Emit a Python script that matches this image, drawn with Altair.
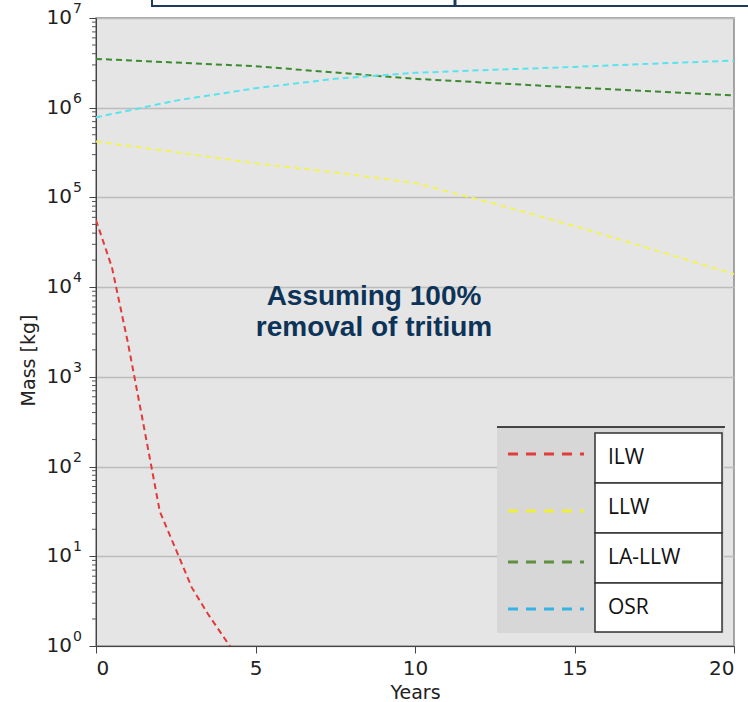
import altair as alt
import pandas as pd

# ---- series values (mass in kg) ----
ilw_years = [0, 0.5, 1, 1.5, 2, 2.5, 3, 3.5, 4, 4.5]
ilw_mass = [5.6e4, 1.66e4, 2.4e3, 2.8e2, 31.6, 12.0, 4.5, 2.3, 1.26, 0.7]

llw_years = [0, 2.5, 5, 7.5, 10, 12.5, 15, 17.5, 20]
llw_mass = [4.2e5, 3.2e5, 2.4e5, 1.9e5, 1.45e5, 8.5e4, 4.8e4, 2.6e4, 1.4e4]

lallw_years = [0, 5, 10, 15, 20]
lallw_mass = [3.5e6, 2.9e6, 2.1e6, 1.68e6, 1.37e6]

osr_years = [0, 2.5, 5, 7.5, 10, 12.5, 15, 17.5, 20]
osr_mass = [7.8e5, 1.2e6, 1.65e6, 2.1e6, 2.45e6, 2.65e6, 2.85e6, 3.1e6, 3.35e6]

series_names = ["ILW", "LLW", "LA-LLW", "OSR"]
line_colors = ["#e23a3a", "#f2f25c", "#3b8a2e", "#58e4ee"]
legend_colors = ["#e03c3c", "#eeee3e", "#5f8f3f", "#36b4e4"]

x_ticks = [0, 5, 10, 15, 20]
y_decades = [0, 1, 2, 3, 4, 5, 6, 7]

W, H = 638, 628
FONT = "DejaVu Sans"

rows = []
for name, xs, ys in [("ILW", ilw_years, ilw_mass), ("LLW", llw_years, llw_mass),
                     ("LA-LLW", lallw_years, lallw_mass), ("OSR", osr_years, osr_mass)]:
    for x, y in zip(xs, ys):
        rows.append({"series": name, "year": x, "mass": y})
df = pd.DataFrame(rows)

xscale = alt.Scale(domain=[0, 20], nice=False, zero=False)
yscale = alt.Scale(type="log", domain=[1, 1e7], nice=False)

lines = alt.Chart(df).mark_line(strokeDash=[6, 4], strokeWidth=2, clip=True).encode(
    x=alt.X("year:Q", scale=xscale,
            axis=alt.Axis(values=x_ticks, title="Years", grid=False, labelFont=FONT,
                          labelFontSize=20, labelColor="#222", titleFont=FONT,
                          titleFontSize=19, titleFontWeight="normal", titleColor="#222",
                          tickSize=7, tickColor="#444", domainColor="#444",
                          labelPadding=5, titlePadding=5)),
    y=alt.Y("mass:Q", scale=yscale,
            axis=alt.Axis(values=[10 ** k for k in y_decades], labels=False, grid=True,
                          gridColor="#bcbcbc", gridWidth=1.5, tickSize=7, tickColor="#444",
                          domainColor="#444", title="Mass [kg]", titleFont=FONT,
                          titleFontSize=19, titleFontWeight="normal", titleColor="#222",
                          titlePadding=50, titleY=342)),
    color=alt.Color("series:N", scale=alt.Scale(domain=series_names, range=line_colors),
                    legend=None),
    detail="series:N",
)

# y tick labels written as 10 with a raised exponent
ylab = pd.DataFrame({"v": [10 ** k for k in y_decades],
                     "e": [str(k) for k in y_decades]})
base_lbl = alt.Chart(ylab).mark_text(align="right", baseline="middle", font=FONT,
                                     fontSize=20, color="#222").encode(
    x=alt.value(-24), y=alt.Y("v:Q", scale=yscale, axis=None), text=alt.value("10"))
exp_lbl = alt.Chart(ylab).mark_text(align="left", baseline="middle", font=FONT,
                                    fontSize=14, color="#222", dy=-9).encode(
    x=alt.value(-23), y=alt.Y("v:Q", scale=yscale, axis=None), text="e:N")

# log minor ticks
minor = pd.DataFrame({"v": [m * 10 ** k for k in range(0, 7) for m in range(2, 10)]})
minor_ticks = alt.Chart(minor).mark_rule(color="#555", strokeWidth=1).encode(
    y=alt.Y("v:Q", scale=yscale, axis=None), x=alt.value(-4), x2=alt.value(0))

# annotation
note = alt.Chart(pd.DataFrame({"t": [["Assuming 100%", "removal of tritium"]]})).mark_text(
    font="Liberation Sans", fontWeight="bold", fontSize=28, color="#0d3458",
    align="center", baseline="middle", lineHeight=31).encode(
    x=alt.value(278), y=alt.value(279), text="t")

# legend box
leg_panel = alt.Chart(pd.DataFrame({"a": [0]})).mark_rect(color="#d7d7d7").encode(
    x=alt.value(401), x2=alt.value(628), y=alt.value(409), y2=alt.value(615))
leg_top = alt.Chart(pd.DataFrame({"a": [0]})).mark_rule(color="#111", strokeWidth=1.5).encode(
    x=alt.value(401), x2=alt.value(629), y=alt.value(409))

row_top = [415, 465, 515, 565]
row_bot = [465, 515, 565, 614]
leg = pd.DataFrame({"series": series_names, "top": row_top, "bot": row_bot,
                    "mid": [(a + b) / 2 for a, b in zip(row_top, row_bot)],
                    "sample_y": [436, 493, 544, 591]})
px = alt.Scale(domain=[0, H], range=[0, H])
cells = alt.Chart(leg).mark_rect(fill="white", stroke="#333", strokeWidth=1.5).encode(
    x=alt.value(499), x2=alt.value(626),
    y=alt.Y("top:Q", scale=px, axis=None), y2="bot:Q")
samples = alt.Chart(leg).mark_rule(strokeWidth=3, strokeDash=[10, 8]).encode(
    x=alt.value(412), x2=alt.value(488),
    y=alt.Y("sample_y:Q", scale=px, axis=None),
    color=alt.Color("series:N", scale=alt.Scale(domain=series_names, range=legend_colors),
                    legend=None))
labels = alt.Chart(leg).mark_text(align="left", baseline="middle", font="Open Sans",
                                  fontSize=21, color="#111").encode(
    x=alt.value(512), y=alt.Y("mid:Q", scale=px, axis=None), text="series:N")

# heading box running off the top of the page
head = alt.Chart(pd.DataFrame({"a": [0]})).mark_rect(
    fill="white", stroke="#1f3a5a", strokeWidth=2).encode(
    x=alt.value(56), x2=alt.value(700), y=alt.value(-45), y2=alt.value(-12))
head_mark = alt.Chart(pd.DataFrame({"a": [0]})).mark_rule(
    color="#1f3a5a", strokeWidth=3).encode(
    x=alt.value(359), y=alt.value(-20), y2=alt.value(-11))

chart = alt.layer(
    lines, minor_ticks, base_lbl, exp_lbl, note,
    leg_panel, leg_top, cells, samples, labels, head, head_mark,
).resolve_scale(y="independent", color="independent").properties(
    width=W, height=H,
    autosize=alt.AutoSizeParams(type="none"),
    padding={"left": 96, "top": 18, "right": 14, "bottom": 56},
    background="white",
).configure_view(fill="#e5e5e5", stroke="#8a8a8a", strokeWidth=1.5)

chart.save("out.html", embed_options={"renderer": "svg", "actions": False})
